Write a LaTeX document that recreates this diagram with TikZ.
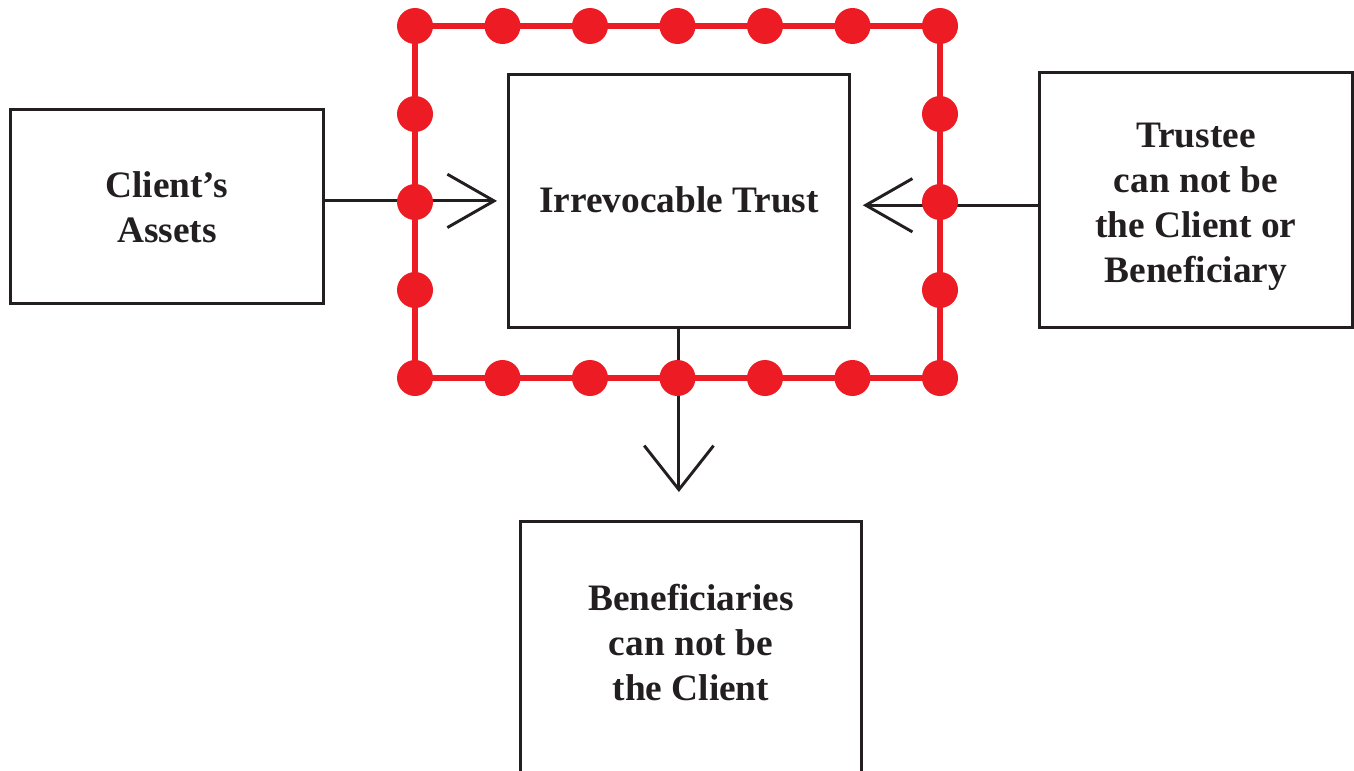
\documentclass[tikz,border=0pt]{standalone}
\usepackage{fontspec}
\setmainfont{Liberation Serif}
\usetikzlibrary{arrows.meta}
\definecolor{ink}{HTML}{231F20}
\definecolor{redframe}{HTML}{ED1C24}
\begin{document}
\begin{tikzpicture}[x=0.75pt,y=-0.75pt,
  box/.style={draw=ink,line width=2.1pt,rectangle,inner sep=0pt,anchor=north west},
  lbl/.style={text=ink,font=\fontsize{28}{33.75}\selectfont\bfseries,align=center},
  conn/.style={draw=ink,line width=2.2pt,-{Straight Barb[length=35pt,width=40pt,line width=2.2pt]}},
  connv/.style={draw=ink,line width=2.2pt,-{Straight Barb[length=33pt,width=52pt,line width=2.2pt]}},
  frame/.style={draw=redframe,line width=3.8pt},
  dot/.style={fill=redframe}]
\useasboundingbox (0,0) rectangle (1354,771);
% boxes
\node[box,minimum width=313*0.75pt,minimum height=194*0.75pt] (client) at (9,108) {};
\node[lbl] (clienttxt) at ([yshift=-0.75pt]client.center) {Client’s\\Assets};
\node[box,minimum width=341*0.75pt,minimum height=253*0.75pt] (trust) at (507,73) {};
\node[lbl] (trusttxt) at ([yshift=0.5pt]trust.center) {Irrevocable Trust};
\node[box,minimum width=313*0.75pt,minimum height=255*0.75pt] (trustee) at (1038,71) {};
\node[lbl] (trusteetxt) at ([yshift=-5.25pt]trustee.center) {Trustee\\can not be\\the Client or\\Beneficiary};
\node[box,minimum width=341*0.75pt,minimum height=270*0.75pt] (benef) at (519,520) {};
\node[lbl,anchor=north] (beneftxt) at ([yshift=-44.5pt]benef.north) {Beneficiaries\\can not be\\the Client};
% connector ends
\coordinate (lend) at ([xshift=-7.5pt]trust.west);
\coordinate (rstart) at ([yshift=-4pt]trustee.west);
\coordinate (rend) at ([xshift=9pt]trust.east |- rstart);
\coordinate (dend) at (trust.south |- 0,492);
% connectors
\draw[conn] (client.east |- lend) -- (lend);
\draw[conn] (rstart) -- (rend);
\draw[connv] (trust.south) -- (dend);
% red dotted frame
\draw[frame] (415,26) rectangle (940,378);
\foreach \x in {415,502.5,590,677.5,765,852.5,940}{
  \fill[dot] (\x,26) circle (13.5pt);
  \fill[dot] (\x,378) circle (13.5pt);
}
\foreach \y in {114,202,290}{
  \fill[dot] (415,\y) circle (13.5pt);
  \fill[dot] (940,\y) circle (13.5pt);
}
\end{tikzpicture}
\end{document}
